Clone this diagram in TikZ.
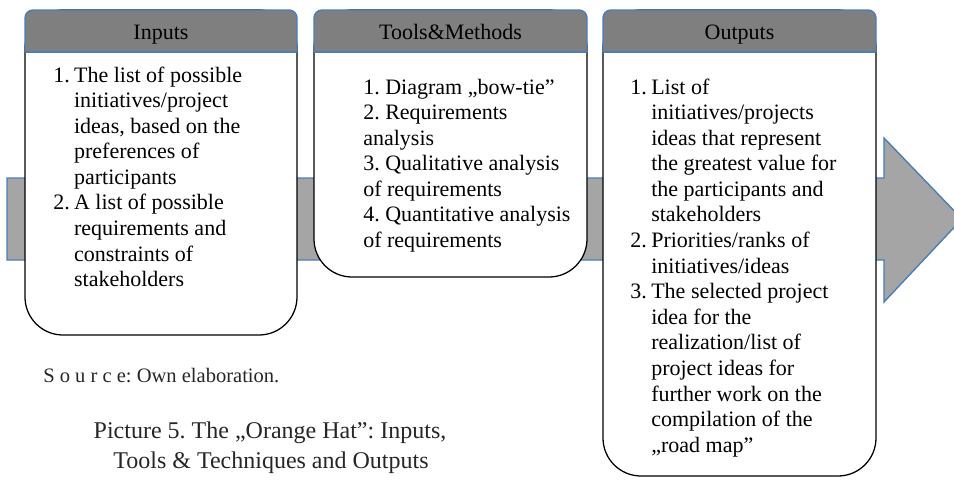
\documentclass[tikz,border=0pt]{standalone}
\usepackage{fontspec}
\setmainfont{Liberation Serif}
\usepackage{xcolor}
\usepackage{tikz}
\definecolor{hdrgray}{HTML}{7F7F7F}
\definecolor{arrgray}{HTML}{A5A5A5}
\definecolor{hdrblue}{HTML}{4A7EBB}
\frenchspacing

\begin{document}
\begin{tikzpicture}[x=0.025cm,y=-0.025cm,
 big/.style={font=\fontsize{15.65}{18.2}\selectfont},
 txt/.style={big,inner sep=0pt,anchor=base west,align=left},
 hd/.style={big,inner sep=0pt,anchor=base},
 captext/.style={inner sep=0pt,anchor=base,font=\fontsize{17.07}{21.3}\selectfont,text=black!85},
 body/.style={draw=black,line width=0.9pt,fill=white,rounded corners=0.95cm},
 head/.style={fill=hdrgray,draw=hdrblue,line width=1pt,rounded corners=0.2cm},
 flow/.style={fill=arrgray,draw=hdrblue,line width=1pt,line join=miter}]
\useasboundingbox (0,0) rectangle (954,480);
% big arrow behind the boxes
\draw[flow] (7,178) -- (884,178) -- (884,138) -- (962,219) -- (884,302) -- (884,260) -- (7,260) -- cycle;
% boxes: left, right, bottom
\foreach \l/\r/\b in {25/297/335, 314/587/277, 603/876/476}{
 \draw[body] (\l,10) rectangle (\r,\b);
 \path[head] (\l,52) -- (\l,10) -- (\r,10) -- (\r,52);
 \draw[hdrblue,line width=1pt] (\l,52) -- (\r,52);
}
\node[hd] (in-h) at (161,39) {Inputs};
\node[hd] (tm-h) at (450.5,39) {Tools\&Methods};
\node[hd] (out-h) at (739.5,39) {Outputs};
\node[txt] (in-t) at (53,82) {\begin{tabular}[t]{@{}p{0.52cm}@{}l@{}}
1. & The list of possible\\
 & initiatives/project\\
 & ideas, based on the\\
 & preferences of\\
 & participants\\
2. & A list of possible\\
 & requirements and\\
 & constraints of\\
 & stakeholders
\end{tabular}};
\node[txt] (tm-t) at (363,94) {\begin{tabular}[t]{@{}l@{}}
1. Diagram „bow-tie”\\
2. Requirements\\
analysis\\
3. Qualitative analysis\\
of requirements\\
4. Quantitative analysis\\
of requirements
\end{tabular}};
\node[txt] (out-t) at (630,94) {\begin{tabular}[t]{@{}p{0.525cm}@{}l@{}}
1. & List of\\
 & initiatives/projects\\
 & ideas that represent\\
 & the greatest value for\\
 & the participants and\\
 & stakeholders\\
2. & Priorities/ranks of\\
 & initiatives/ideas\\
3. & The selected project\\
 & idea for the\\
 & realization/list of\\
 & project ideas for\\
 & further work on the\\
 & compilation of the\\
 & „road map”
\end{tabular}};
% source and caption
\node[inner sep=0pt,anchor=base west,font=\fontsize{14.6}{17}\selectfont,text=black!85] (src) at (43,382) {S o u r c e: Own elaboration.};
\node[captext] (cap1) at (270,438) {Picture 5. The „Orange Hat”: Inputs,};
\node[captext] (cap2) at (271,468) {Tools \& Techniques and Outputs};
\end{tikzpicture}
\end{document}
